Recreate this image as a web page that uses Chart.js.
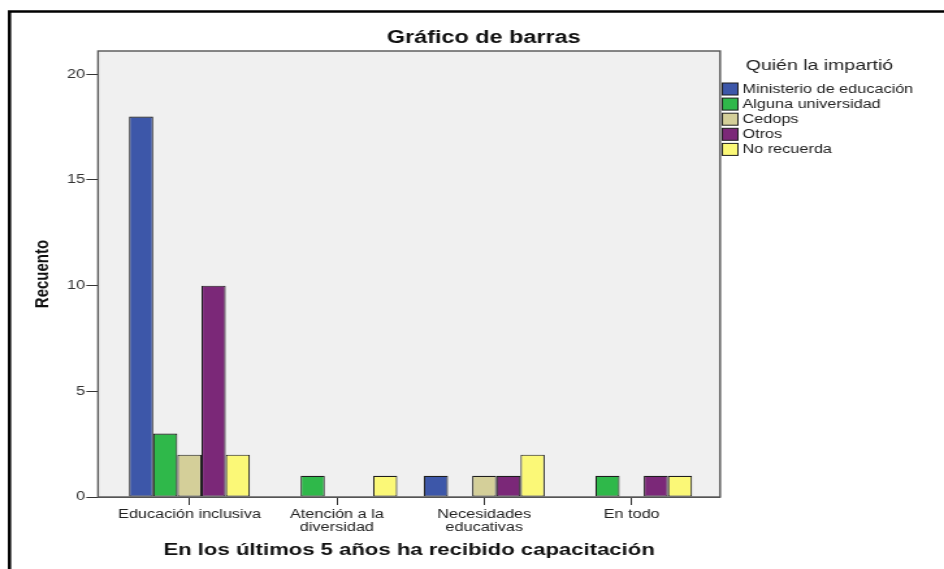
<!DOCTYPE html>
<html>
<head>
<meta charset="utf-8">
<script src="https://cdn.jsdelivr.net/npm/chart.js@4"></script>
<style>
  html, body { margin: 0; padding: 0; background: #fff; overflow: hidden; }
  /* the reference picture is stretched sideways, so the chart is drawn narrow and scaled */
  #wrap { width: 726px; height: 569px; transform: scaleX(1.3003); transform-origin: 0 0; }
</style>
</head>
<body>
<div id="wrap"><canvas id="chart" width="726" height="569"></canvas></div>
<script>
const chartTitle = "Gráfico de barras";
const xTitle = "En los últimos 5 años ha recibido capacitación";
const yTitle = "Recuento";
const legendTitle = "Quién la impartió";

const categories = [
  "Educación inclusiva",
  ["Atención a la", "diversidad"],
  ["Necesidades", "educativas"],
  "En todo"
];
const seriesNames = ["Ministerio de educación", "Alguna universidad", "Cedops", "Otros", "No recuerda"];
const ministerio = [18, 0, 1, 0];
const universidad = [3, 1, 0, 1];
const cedops = [2, 0, 1, 0];
const otros = [10, 0, 1, 1];
const noRecuerda = [2, 1, 2, 1];
const yTicks = [0, 5, 10, 15, 20];

const colors = ["#3d57a9", "#2fb84a", "#d4cf99", "#7b2878", "#fbf877"];
const FONT = '"Liberation Sans", Arial, sans-serif';

const series = [ministerio, universidad, cedops, otros, noRecuerda];

// bars sit on a linear x axis so the side margins can match the picture
const datasets = series.map((vals, k) => ({
  label: seriesNames[k],
  data: vals.map((v, i) => ({ x: i, y: v })),
  backgroundColor: colors[k],
  borderColor: "#1e1e1e",
  borderWidth: (c) => (c.raw && c.raw.y > 0 ? 1.1 : 0),
  borderSkipped: false,
  categoryPercentage: 0.82,
  barPercentage: 1.0
}));

const frame = {
  id: "frame",
  beforeDraw(chart) {
    const { ctx, chartArea: a, width, height } = chart;
    ctx.save();
    ctx.fillStyle = "#fff";
    ctx.fillRect(0, 0, width, height);
    ctx.fillStyle = "#f0f0f0";
    ctx.fillRect(a.left, a.top, a.right - a.left, a.bottom - a.top);

    ctx.strokeStyle = "#000";
    ctx.lineWidth = 2.5;
    ctx.beginPath();
    ctx.moveTo(7.3, height);
    ctx.lineTo(7.3, 11.5);
    ctx.lineTo(width, 11.5);
    ctx.stroke();

    ctx.fillStyle = "#111";
    ctx.font = "bold 18px " + FONT;
    ctx.textAlign = "center";
    ctx.textBaseline = "middle";
    ctx.fillText(chartTitle, 372, 38);
    ctx.restore();
  },
  afterDraw(chart) {
    const { ctx, chartArea: a } = chart;
    ctx.save();
    ctx.strokeStyle = "#555";
    ctx.lineWidth = 1.4;
    ctx.strokeRect(a.left, a.top, a.right - a.left, a.bottom - a.top);

    // legend
    ctx.fillStyle = "#222";
    ctx.textAlign = "left";
    ctx.textBaseline = "middle";
    ctx.font = "15px " + FONT;
    ctx.fillText(legendTitle, 573.5, 66);
    ctx.font = "12.5px " + FONT;
    chart.data.datasets.forEach((ds, i) => {
      const y = 89 + i * 15.1;
      ctx.fillStyle = ds.backgroundColor;
      ctx.fillRect(555.5, y - 6, 12, 12);
      ctx.strokeStyle = "#1e1e1e";
      ctx.lineWidth = 1;
      ctx.strokeRect(555.5, y - 6, 12, 12);
      ctx.fillStyle = "#222";
      ctx.fillText(ds.label, 571, y + 0.5);
    });
    ctx.restore();
  }
};

new Chart(document.getElementById("chart"), {
  type: "bar",
  data: { datasets },
  plugins: [frame],
  options: {
    responsive: false,
    animation: false,
    devicePixelRatio: 1,
    layout: { padding: { top: 51, right: 172.2, bottom: 0, left: 0 } },
    plugins: {
      legend: { display: false },
      title: { display: false },
      tooltip: { enabled: false }
    },
    scales: {
      x: {
        type: "linear",
        min: -0.62,
        max: 3.6,
        offset: false,
        afterBuildTicks: (s) => { s.ticks = categories.map((c, i) => ({ value: i })); },
        afterFit: (s) => { s.height = 72; },
        grid: { offset: false, drawOnChartArea: false, drawTicks: true, tickLength: 8, color: "#333" },
        border: { display: true, color: "#555" },
        ticks: {
          autoSkip: false,
          maxRotation: 0,
          minRotation: 0,
          padding: 3,
          color: "#222",
          font: { family: FONT, size: 12.5, lineHeight: 1.04 },
          callback: (v) => categories[v]
        },
        title: {
          display: true,
          text: xTitle,
          color: "#111",
          font: { family: FONT, size: 17, weight: "bold" },
          padding: { top: 0, bottom: 8 }
        }
      },
      y: {
        min: 0,
        max: 21.1,
        afterBuildTicks: (s) => { s.ticks = yTicks.map((v) => ({ value: v })); },
        afterFit: (s) => { s.width = 75.4; },
        grid: { drawOnChartArea: false, drawTicks: true, tickLength: 9, color: "#333" },
        border: { display: true, color: "#555" },
        ticks: {
          padding: 1,
          color: "#333",
          font: { family: FONT, size: 12.5 }
        },
        title: {
          display: true,
          text: yTitle,
          color: "#111",
          font: { family: FONT, size: 15, weight: "bold" },
          padding: { top: 24, bottom: 0 }
        }
      }
    }
  }
});
</script>
</body>
</html>
